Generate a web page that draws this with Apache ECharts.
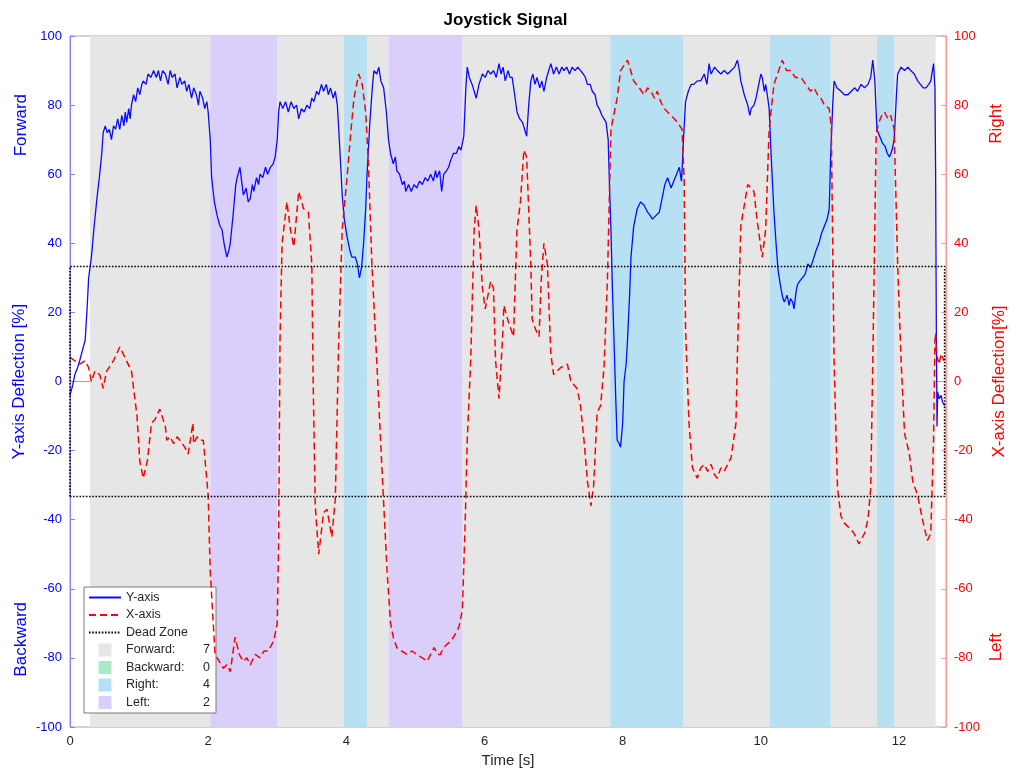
<!DOCTYPE html>
<html>
<head>
<meta charset="utf-8">
<title>Joystick Signal</title>
<script src="https://cdn.jsdelivr.net/npm/echarts@6/dist/echarts.min.js"></script>
<style>
  html, body { margin: 0; padding: 0; background: #fff; }
  #chart { width: 1011px; height: 771px; }
</style>
</head>
<body>
<div id="chart"></div>
<script>
// time axis end [s]
const timeMax = 12.68;

// Y-axis deflection (blue), [t, %]
const yAxisSignal = [
  [0,-4],[0.04,-1],[0.07,2],[0.11,4],[0.14,6],[0.18,9],[0.22,12],[0.25,22],[0.27,30],[0.31,36],
  [0.35,45],[0.39,53],[0.43,60],[0.46,66],[0.48,72],[0.51,74],[0.54,72],[0.57,73],[0.60,70],[0.63,74],
  [0.66,73],[0.69,76],[0.72,73],[0.75,77],[0.78,74],[0.80,78],[0.82,75],[0.85,79],[0.87,76],[0.89,80],
  [0.92,83],[0.95,81],[0.98,85],[1.01,83],[1.04,86],[1.06,87],[1.10,86],[1.13,89],[1.17,88],[1.21,90],
  [1.25,88],[1.28,90],[1.31,87],[1.34,90],[1.38,89],[1.42,86],[1.45,90],[1.48,88],[1.52,89],[1.55,85],
  [1.59,88],[1.62,86],[1.66,87],[1.69,84],[1.72,86],[1.76,82],[1.79,85],[1.83,83],[1.86,80],[1.88,84],
  [1.92,82],[1.95,79],[1.98,81],[2.00,78],[2.03,70],[2.05,59],[2.09,52],[2.13,48],[2.17,45],[2.20,44],
  [2.23,40],[2.27,36],[2.30,38],[2.32,40],[2.36,48],[2.40,57],[2.42,59],[2.46,62],[2.49,57],[2.51,54],
  [2.55,56],[2.58,52],[2.61,53],[2.64,57],[2.66,55],[2.70,59],[2.73,57],[2.75,60],[2.79,59],[2.83,62],
  [2.86,60],[2.90,62],[2.94,63],[2.97,65],[3.00,70],[3.02,78],[3.04,81],[3.08,79],[3.12,81],[3.16,78],
  [3.20,81],[3.24,79],[3.28,80],[3.31,76],[3.35,79],[3.39,78],[3.43,80],[3.47,79],[3.50,82],[3.53,81],
  [3.57,84],[3.60,83],[3.64,86],[3.67,84],[3.71,86],[3.74,83],[3.77,85],[3.81,82],[3.84,84],[3.87,80],
  [3.89,73],[3.92,62],[3.94,54],[3.97,47],[4.01,42],[4.05,38],[4.08,36],[4.13,36],[4.16,34],[4.19,30],
  [4.22,33],[4.25,40],[4.28,50],[4.30,60],[4.34,75],[4.38,86],[4.40,90],[4.44,89],[4.47,91],[4.50,87],
  [4.54,85],[4.58,78],[4.61,70],[4.64,66],[4.68,63],[4.71,65],[4.73,61],[4.77,60],[4.81,57],[4.84,58],
  [4.86,55],[4.90,57],[4.94,55],[4.98,57],[5.02,56],[5.06,58],[5.10,57],[5.14,59],[5.18,58],[5.22,60],
  [5.26,58],[5.29,61],[5.31,59],[5.35,61],[5.38,55],[5.41,60],[5.45,61],[5.48,62],[5.51,64],[5.55,66],
  [5.59,66],[5.63,68],[5.66,67],[5.70,71],[5.73,85],[5.75,91],[5.78,88],[5.82,86],[5.85,84],[5.88,82],
  [5.92,86],[5.97,89],[6.01,88],[6.05,90],[6.09,89],[6.13,90],[6.17,88],[6.21,92],[6.24,89],[6.27,91],
  [6.30,87],[6.34,90],[6.37,88],[6.40,88],[6.43,84],[6.47,78],[6.51,76],[6.55,75],[6.58,73],[6.61,71],
  [6.64,80],[6.67,87],[6.70,89],[6.73,86],[6.76,88],[6.80,85],[6.83,87],[6.86,84],[6.90,88],[6.93,90],
  [6.96,92],[7.00,89],[7.04,91],[7.08,89],[7.12,91],[7.15,90],[7.19,91],[7.23,89],[7.27,91],[7.31,90],
  [7.35,91],[7.39,90],[7.43,89],[7.46,88],[7.49,86],[7.53,86],[7.56,84],[7.60,83],[7.63,80],[7.66,79],
  [7.70,77],[7.73,76],[7.76,75],[7.79,70],[7.81,56],[7.83,44],[7.85,28],[7.87,15],[7.90,-5],[7.92,-17],
  [7.95,-18],[7.97,-19],[8.00,-12],[8.02,0],[8.05,5],[8.07,12],[8.10,25],[8.12,36],[8.16,45],[8.21,50],
  [8.26,52],[8.31,51],[8.36,49],[8.40,48],[8.43,47],[8.48,48],[8.53,49],[8.57,53],[8.61,57],[8.65,59],
  [8.70,56],[8.74,58],[8.78,60],[8.82,62],[8.85,58],[8.86,61],[8.88,70],[8.91,81],[8.95,84],[8.99,86],
  [9.03,86],[9.08,87],[9.13,87],[9.18,89],[9.22,86],[9.25,92],[9.28,89],[9.33,91],[9.37,90],[9.42,89],
  [9.47,90],[9.52,89],[9.57,90],[9.62,91],[9.66,93],[9.69,90],[9.71,87],[9.76,83],[9.81,80],[9.84,77],
  [9.86,79],[9.90,80],[9.93,82],[9.97,86],[10.00,89],[10.02,88],[10.05,84],[10.07,86],[10.10,82],[10.12,79],
  [10.15,65],[10.19,49],[10.22,40],[10.25,32],[10.29,27],[10.32,24],[10.34,23],[10.38,25],[10.41,22],[10.43,24],
  [10.46,23],[10.48,21],[10.51,26],[10.53,28],[10.56,29],[10.60,30],[10.64,31],[10.68,34],[10.72,33],[10.77,36],
  [10.80,38],[10.84,40],[10.88,43],[10.92,45],[10.96,47],[10.99,50],[11.01,65],[11.04,80],[11.06,87],[11.10,85],
  [11.16,84],[11.21,83],[11.26,83],[11.31,84],[11.36,85],[11.40,84],[11.45,86],[11.50,85],[11.55,86],[11.59,88],
  [11.62,93],[11.65,87],[11.68,73],[11.72,71],[11.76,69],[11.80,68],[11.83,66],[11.86,65],[11.90,67],[11.93,70],
  [11.96,82],[11.98,89],[12.03,91],[12.08,90],[12.13,91],[12.17,90],[12.22,89],[12.27,87],[12.31,86],[12.35,85],
  [12.39,85],[12.43,86],[12.46,87],[12.50,92],[12.52,85],[12.53,60],[12.54,15],[12.55,-13],[12.56,-3],[12.58,-5],
  [12.61,-4],[12.63,-6],[12.66,-7]
];

// X-axis deflection (red dashed), [t, %]
const xAxisSignal = [
  [0,7],[0.07,6],[0.14,5],[0.22,6],[0.27,4],[0.31,0],[0.36,3],[0.43,2],[0.48,-2],[0.53,3],
  [0.63,6],[0.72,10],[0.77,8],[0.89,3],[0.97,-10],[1.01,-23],[1.06,-28],[1.12,-23],[1.18,-12],[1.23,-11],
  [1.30,-8],[1.38,-13],[1.40,-17],[1.45,-16],[1.50,-18],[1.55,-16],[1.59,-17],[1.66,-19],[1.71,-21],[1.78,-12],
  [1.79,-18],[1.84,-16],[1.88,-17],[1.93,-17],[2.00,-33],[2.03,-55],[2.10,-79],[2.16,-81],[2.22,-83],[2.27,-82],
  [2.32,-84],[2.39,-74],[2.45,-79],[2.51,-81],[2.56,-80],[2.61,-82],[2.68,-79],[2.75,-80],[2.81,-78],[2.87,-78],
  [2.95,-75],[3.00,-70],[3.02,-46],[3.04,12],[3.07,40],[3.14,52],[3.19,44],[3.24,39],[3.31,55],[3.38,50],
  [3.45,49],[3.50,34],[3.52,0],[3.55,-36],[3.60,-50],[3.67,-38],[3.72,-37],[3.79,-45],[3.84,-34],[3.89,12],
  [3.94,44],[4.01,59],[4.06,71],[4.11,82],[4.18,89],[4.23,86],[4.28,78],[4.32,63],[4.37,34],[4.44,6],
  [4.52,-27],[4.59,-55],[4.64,-70],[4.68,-74],[4.73,-77],[4.80,-78],[4.88,-79],[4.95,-78],[5.02,-79],[5.10,-80],
  [5.17,-81],[5.22,-79],[5.27,-77],[5.32,-79],[5.36,-79],[5.41,-77],[5.46,-76],[5.52,-75],[5.58,-73],[5.63,-71],
  [5.68,-66],[5.72,-41],[5.75,-17],[5.80,6],[5.85,44],[5.88,51],[5.92,44],[5.97,27],[6.01,21],[6.09,29],
  [6.13,27],[6.16,6],[6.21,-5],[6.26,12],[6.28,22],[6.35,17],[6.42,13],[6.47,44],[6.52,52],[6.57,67],
  [6.61,65],[6.67,34],[6.69,18],[6.74,15],[6.79,13],[6.82,29],[6.86,40],[6.91,34],[6.96,8],[7.00,2],
  [7.10,4],[7.20,5],[7.25,0],[7.34,-2],[7.39,-7],[7.44,-17],[7.49,-29],[7.54,-36],[7.58,-30],[7.63,-9],
  [7.68,-7],[7.73,4],[7.78,30],[7.83,73],[7.92,82],[7.97,90],[8.07,93],[8.16,87],[8.24,85],[8.31,83],
  [8.36,85],[8.41,84],[8.46,82],[8.50,84],[8.55,81],[8.60,79],[8.65,78],[8.70,77],[8.75,76],[8.79,75],
  [8.86,73],[8.89,58],[8.91,15],[8.96,-12],[9.01,-25],[9.08,-28],[9.13,-25],[9.18,-24],[9.23,-26],[9.28,-24],
  [9.33,-27],[9.37,-28],[9.42,-25],[9.47,-26],[9.52,-24],[9.57,-22],[9.64,-12],[9.66,7],[9.71,45],[9.81,57],
  [9.90,55],[9.95,46],[10.02,36],[10.07,44],[10.12,73],[10.19,86],[10.31,93],[10.37,90],[10.43,90],[10.50,88],
  [10.58,88],[10.65,86],[10.72,84],[10.77,85],[10.82,83],[10.87,82],[10.92,80],[10.99,79],[11.02,73],[11.06,6],
  [11.09,-17],[11.11,-31],[11.16,-39],[11.21,-41],[11.26,-42],[11.31,-43],[11.35,-44],[11.42,-47],[11.50,-44],[11.55,-40],
  [11.59,-31],[11.62,5],[11.67,72],[11.71,75],[11.75,77],[11.79,78],[11.84,76],[11.88,77],[11.93,73],[11.98,34],
  [12.03,6],[12.08,-15],[12.15,-21],[12.20,-29],[12.27,-33],[12.34,-40],[12.41,-46],[12.46,-44],[12.50,-17],[12.52,12],
  [12.53,14],[12.54,8],[12.58,5],[12.61,8],[12.65,6]
];

// dead zone limits [%]
const deadZone = 33.3;
const deadZoneEnd = 12.66;

// shaded intent periods [start, end] in s
const forwardSpans = [[0.29, 2.03], [3.00, 3.96], [4.30, 4.61], [5.68, 7.82], [8.88, 10.13], [11.01, 11.68], [11.93, 12.53]];
const backwardSpans = [];
const rightSpans = [[3.96, 4.30], [7.82, 8.88], [10.13, 11.01], [11.68, 11.93]];
const leftSpans = [[2.03, 3.00], [4.61, 5.68]];

const FONT = "Liberation Sans";
const regionDefs = [
  { name: "Forward", spans: forwardSpans, color: "#e6e6e6" },
  { name: "Backward", spans: backwardSpans, color: "#a9ebc4" },
  { name: "Right", spans: rightSpans, color: "#b7e1f2" },
  { name: "Left", spans: leftSpans, color: "#dacefa" },
];
const counts = {};
regionDefs.forEach((r) => (counts[r.name] = r.spans.length));

const chart = echarts.init(document.getElementById("chart"));

// shaded periods, full axis height
const regionSeries = regionDefs.map((r) => ({
  name: r.name,
  type: "custom",
  color: r.color,
  silent: true,
  clip: true,
  z: 1,
  encode: { x: [0, 1] },
  data: r.spans,
  renderItem: (params, api) => {
    const p0 = api.coord([api.value(0), 100]);
    const p1 = api.coord([api.value(1), -100]);
    return {
      type: "rect",
      shape: { x: p0[0], y: p0[1], width: p1[0] - p0[0], height: p1[1] - p0[1] },
      style: { fill: r.color },
    };
  },
}));

const squareIcon = "path://M0,0h10v10h-10z";
const hideSymbol = { opacity: 0 };

const option = {
  animation: false,
  textStyle: { fontFamily: FONT },
  title: {
    text: "Joystick Signal",
    left: "center",
    top: 7,
    textStyle: { fontSize: 17, fontWeight: "bold", color: "#000", fontFamily: FONT },
  },
  grid: {
    left: 70, right: 65, top: 36, bottom: 44,
    outerBoundsMode: "none",
    containLabel: false,
    show: true, borderColor: "#a6a6a6", borderWidth: 1, backgroundColor: "#fff",
  },
  legend: {
    orient: "vertical",
    left: 84,
    top: 587,
    itemWidth: 32,
    itemHeight: 13,
    itemGap: 4.5,
    padding: [4, 6, 4, 4],
    backgroundColor: "#fff",
    borderColor: "#7a7a7a",
    borderWidth: 1,
    borderRadius: 0,
    data: [
      { name: "Y-axis", itemStyle: hideSymbol },
      { name: "X-axis", itemStyle: hideSymbol },
      { name: "Dead Zone", itemStyle: hideSymbol },
      { name: "Forward", icon: squareIcon },
      { name: "Backward", icon: squareIcon },
      { name: "Right", icon: squareIcon },
      { name: "Left", icon: squareIcon },
    ],
    formatter: (name) =>
      counts[name] !== undefined ? `{n|${name}:}{c|${counts[name]}}` : name,
    textStyle: {
      fontSize: 12.5, color: "#262626", fontFamily: FONT,
      rich: {
        n: { fontSize: 12.5, color: "#262626", fontFamily: FONT, width: 70 },
        c: { fontSize: 12.5, color: "#262626", fontFamily: FONT, width: 14, align: "right" },
      },
    },
  },
  xAxis: {
    type: "value",
    min: 0,
    max: timeMax,
    interval: 2,
    name: "Time [s]",
    nameLocation: "middle",
    nameGap: 24,
    nameTextStyle: { fontSize: 15, color: "#262626", fontFamily: FONT },
    axisLine: { lineStyle: { color: "#a6a6a6" } },
    axisTick: { inside: true, length: 5, lineStyle: { color: "#a6a6a6" } },
    axisLabel: { color: "#262626", fontSize: 13, margin: 8, showMaxLabel: false },
    splitLine: { show: false },
  },
  yAxis: [
    {
      type: "value",
      position: "left",
      min: -100,
      max: 100,
      interval: 20,
      name: "Y-axis Deflection [%]",
      nameLocation: "middle",
      nameGap: 42,
      nameMoveOverlap: false,
      nameTextStyle: { fontSize: 17, color: "#0000ff", fontFamily: FONT },
      axisLine: { show: true, lineStyle: { color: "#8080ff" } },
      axisTick: { show: true, inside: true, length: 5, lineStyle: { color: "#8080ff" } },
      axisLabel: { color: "#0000ff", fontSize: 13, margin: 8 },
      splitLine: { show: false },
    },
    {
      type: "value",
      position: "right",
      min: -100,
      max: 100,
      interval: 20,
      name: "X-axis Deflection[%]",
      nameLocation: "middle",
      nameGap: 42,
      nameTextStyle: { fontSize: 17, color: "#ff0000", fontFamily: FONT },
      axisLine: { show: true, lineStyle: { color: "#ff9a9a" } },
      axisTick: { show: true, inside: true, length: 5, lineStyle: { color: "#ff9a9a" } },
      axisLabel: { color: "#ff0000", fontSize: 13, margin: 8 },
      splitLine: { show: false },
    },
  ],
  graphic: [
    { type: "text", left: 13, top: 94, rotation: Math.PI / 2,
      style: { text: "Forward", fill: "#0000ff", font: `17px '${FONT}'` } },
    { type: "text", left: 13, top: 602, rotation: Math.PI / 2,
      style: { text: "Backward", fill: "#0000ff", font: `17px '${FONT}'` } },
    { type: "text", left: 988, top: 104, rotation: Math.PI / 2,
      style: { text: "Right", fill: "#ff0000", font: `17px '${FONT}'` } },
    { type: "text", left: 988, top: 633, rotation: Math.PI / 2,
      style: { text: "Left", fill: "#ff0000", font: `17px '${FONT}'` } },
  ],
  series: [
    ...regionSeries,
    {
      name: "Y-axis",
      type: "line",
      yAxisIndex: 0,
      data: yAxisSignal,
      showSymbol: false,
      symbol: "none",
      color: "#0a0aff",
      lineStyle: { width: 1.3, color: "#0a0aff" },
      z: 3,
    },
    {
      name: "X-axis",
      type: "line",
      yAxisIndex: 1,
      data: xAxisSignal,
      showSymbol: false,
      symbol: "none",
      color: "#ff0000",
      lineStyle: { width: 1.5, color: "#ff0000", type: [7, 4] },
      z: 4,
    },
    {
      name: "Dead Zone",
      type: "line",
      yAxisIndex: 0,
      data: [
        [0, -deadZone], [0, deadZone], [deadZoneEnd, deadZone],
        [deadZoneEnd, -deadZone], [0, -deadZone],
      ],
      showSymbol: false,
      symbol: "none",
      color: "#000",
      lineStyle: { width: 1.6, color: "#000", type: [1.6, 1.6] },
      z: 5,
    },
  ],
};

chart.setOption(option);
</script>
</body>
</html>
